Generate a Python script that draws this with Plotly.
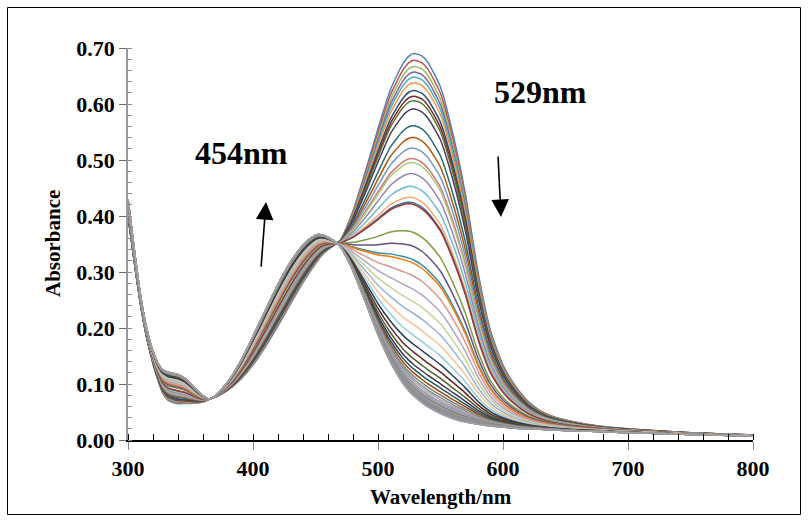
import plotly.graph_objects as go

# ---- data ----
wavelength = [300, 305, 310, 315, 320, 325, 328, 332, 336, 340, 345, 350, 355, 360, 365, 370,
              380, 390, 400, 410, 420, 430, 440, 447, 452, 456, 460, 465, 470, 475, 480, 490,
              500, 510, 520, 525, 529, 535, 540, 550, 560, 570, 580, 590, 600, 610, 620, 630,
              640, 660, 680, 700, 750, 800]

# first spectrum (529 nm band at maximum)
abs_initial = [0.400, 0.318, 0.242, 0.182, 0.136, 0.100, 0.083, 0.071, 0.067, 0.065, 0.065, 0.065,
               0.066, 0.068, 0.073, 0.077, 0.089, 0.108, 0.134, 0.167, 0.204, 0.243, 0.281, 0.305,
               0.321, 0.332, 0.340, 0.348, 0.357, 0.381, 0.409, 0.480, 0.556, 0.626, 0.672, 0.686,
               0.690, 0.686, 0.674, 0.630, 0.546, 0.438, 0.300, 0.195, 0.134, 0.096, 0.069, 0.052,
               0.042, 0.031, 0.024, 0.020, 0.013, 0.009]

# last spectrum (454 nm band at maximum)
abs_final = [0.430, 0.340, 0.258, 0.198, 0.158, 0.133, 0.125, 0.121, 0.119, 0.117, 0.111, 0.101,
             0.089, 0.079, 0.073, 0.079, 0.104, 0.140, 0.185, 0.232, 0.278, 0.318, 0.348, 0.362,
             0.367, 0.366, 0.362, 0.355, 0.345, 0.326, 0.302, 0.246, 0.188, 0.139, 0.101, 0.087,
             0.078, 0.067, 0.059, 0.047, 0.038, 0.032, 0.028, 0.025, 0.023, 0.021, 0.020, 0.019,
             0.018, 0.016, 0.015, 0.013, 0.010, 0.007]

# absorbance at 529 nm of every recorded spectrum, in titration order
abs_529 = [0.690, 0.678, 0.667, 0.657, 0.648, 0.638, 0.624, 0.614, 0.606, 0.591,
           0.561, 0.540, 0.521, 0.502, 0.495, 0.475, 0.452, 0.432, 0.423, 0.420,
           0.370, 0.345, 0.321, 0.315, 0.292, 0.268, 0.246, 0.225, 0.205, 0.186,
           0.170, 0.156, 0.144, 0.134, 0.126, 0.119, 0.113, 0.108, 0.104, 0.100,
           0.097, 0.094, 0.092, 0.090, 0.088, 0.087, 0.086, 0.085, 0.084, 0.083,
           0.082, 0.081, 0.081, 0.080, 0.080, 0.079, 0.079, 0.079, 0.078, 0.078]

palette = ["#4F81BD", "#C0504D", "#9BBB59", "#8064A2", "#4BACC6", "#F79646",
           "#2C4D75", "#772C2A", "#5F7530", "#4D3B62", "#276A7C", "#B65708",
           "#729ACA", "#CD7371", "#AFC97A", "#9983B5", "#6FBDD1", "#F9AB6B",
           "#3A679C", "#9F3B38", "#7E9D40", "#664F83", "#358EA6", "#F37B0E",
           "#D99694", "#B3A2C7", "#C3D69B", "#95B3D7", "#FAC090", "#93CDDD",
           "#254061", "#632523", "#4F6228", "#403152", "#215968", "#984807",
           "#7F7F7F", "#8C8C8C", "#A5A5A5", "#9E8FB0", "#8AA0B8", "#A89A8A",
           "#6F7F6F", "#A89AA8", "#8E8E8E", "#9A9A9A", "#7D8A96", "#A0968C"]
late_colors = ["#8F8F8F", "#9A90AE", "#858585", "#A3A3A3"]

FONT = "Liberation Serif, Times New Roman, serif"

fig = go.Figure()
i0 = abs_initial[wavelength.index(529)]
i1 = abs_final[wavelength.index(529)]
for k, a in enumerate(abs_529):
    f = (a - i1) / (i0 - i1)
    ys = [b + f * (t - b) for t, b in zip(abs_initial, abs_final)]
    color = palette[k] if k < len(palette) else late_colors[k % 4]
    fig.add_trace(go.Scatter(x=wavelength, y=ys, mode="lines",
                             line=dict(color=color, width=1.5, shape="spline", smoothing=0.6),
                             showlegend=False, hoverinfo="skip"))

fig.update_layout(
    width=808, height=522,
    margin=dict(l=128, r=55, t=48, b=82),
    paper_bgcolor="white", plot_bgcolor="white",
    font=dict(family=FONT, color="black"),
    showlegend=False,
)
fig.update_xaxes(
    range=[300, 800], tick0=300, dtick=100, showgrid=False, zeroline=False,
    showline=True, linecolor="black", linewidth=1.5,
    ticks="outside", ticklen=8, tickcolor="#8a8a8a", tickwidth=1,
    tickfont=dict(family=FONT, size=22, color="black", weight="bold"),
    minor=dict(dtick=20, ticks="inside", ticklen=6, tickcolor="black", tickwidth=1, showgrid=False),
)
fig.update_yaxes(
    range=[0, 0.70], tick0=0, dtick=0.1, tickformat=".2f", showgrid=False, zeroline=False,
    showline=True, linecolor="#9a9a9a", linewidth=1.5,
    ticks="outside", ticklen=7, tickcolor="#6a6a6a", tickwidth=1,
    tickfont=dict(family=FONT, size=22, color="black", weight="bold"),
    minor=dict(dtick=0.02, ticks="inside", ticklen=4, tickcolor="#8a8a8a", tickwidth=1, showgrid=False),
)

# axis titles
fig.add_annotation(text="Wavelength/nm", xref="paper", yref="paper", x=0.5, y=-0.145,
                   showarrow=False, xanchor="center", yanchor="middle",
                   font=dict(family=FONT, size=21, color="black", weight="bold"))
fig.add_annotation(text="Absorbance", xref="paper", yref="paper", x=-0.12, y=0.5,
                   showarrow=False, textangle=-90, xanchor="center", yanchor="middle",
                   font=dict(family=FONT, size=21, color="black", weight="bold"))

# band labels
fig.add_annotation(text="454nm", x=390.4, y=0.5125, showarrow=False,
                   font=dict(family=FONT, size=32, color="black", weight="bold"))
fig.add_annotation(text="529nm", x=629.6, y=0.621, showarrow=False,
                   font=dict(family=FONT, size=32, color="black", weight="bold"))

# arrows
fig.add_annotation(x=410.4, y=0.425, ax=406.4, ay=0.307, axref="x", ayref="y",
                   text="", showarrow=True, arrowhead=2, arrowsize=2.2, arrowwidth=1.6,
                   arrowcolor="black", standoff=0)
fig.add_annotation(x=598.4, y=0.398, ax=596.0, ay=0.509, axref="x", ayref="y",
                   text="", showarrow=True, arrowhead=2, arrowsize=2.2, arrowwidth=1.6,
                   arrowcolor="black", standoff=0)

# outer frame
fig.add_shape(type="rect", xref="paper", yref="paper",
              x0=(7.5 - 128) / 625, x1=(800.5 - 128) / 625,
              y0=(440 - 514.5) / 392, y1=(440 - 7.5) / 392,
              line=dict(color="black", width=1), fillcolor="rgba(0,0,0,0)", layer="below")

fig.write_html("out.html")
